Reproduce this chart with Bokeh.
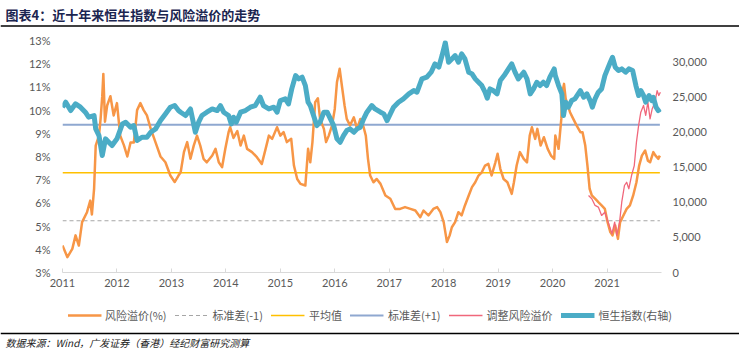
from bokeh.plotting import figure
from bokeh.models import (Range1d, LinearAxis, FixedTicker, PrintfTickFormatter,
                          NumeralTickFormatter, Legend, LegendItem, Plot)
from bokeh.layouts import column
from bokeh.embed import file_html
from bokeh.resources import INLINE
from bokeh.core.properties import value

TITLE = "图表4：近十年来恒生指数与风险溢价的走势"
SOURCE = "数据来源：Wind，广发证券（香港）经纪财富研究测算"
YEAR_TICKS = list(range(2011, 2022))
PCT_TICKS = list(range(3, 14))
HSI_TICKS = list(range(0, 30001, 5000))
MEAN = 7.30
STD = 2.07

# 风险溢价(%)
rp_x = [2011.00, 2011.09, 2011.18, 2011.24, 2011.30, 2011.36, 2011.45, 2011.51, 2011.54, 2011.58,
        2011.61, 2011.67, 2011.70, 2011.73, 2011.75, 2011.78, 2011.82, 2011.88, 2011.94, 2012.00,
        2012.06, 2012.13, 2012.19, 2012.25, 2012.31, 2012.37, 2012.43, 2012.49, 2012.55, 2012.62,
        2012.71, 2012.80, 2012.89, 2012.98, 2013.06, 2013.13,
        2013.17, 2013.23, 2013.29, 2013.35, 2013.41, 2013.47, 2013.53, 2013.59, 2013.65, 2013.75,
        2013.81, 2013.87, 2013.93, 2013.99, 2014.05, 2014.08, 2014.14, 2014.21, 2014.27, 2014.33,
        2014.39, 2014.48, 2014.57, 2014.66, 2014.73, 2014.79, 2014.85, 2014.94, 2015.00, 2015.06,
        2015.12, 2015.20, 2015.25, 2015.31, 2015.37, 2015.46,
        2015.51, 2015.55, 2015.59, 2015.64, 2015.69, 2015.73, 2015.80, 2015.84, 2015.89, 2015.95,
        2016.00, 2016.04, 2016.09, 2016.13, 2016.18, 2016.22, 2016.28, 2016.35, 2016.41, 2016.47,
        2016.53, 2016.57, 2016.61, 2016.65, 2016.71, 2016.77, 2016.84, 2016.93, 2017.02, 2017.11,
        2017.20, 2017.29, 2017.39, 2017.48, 2017.57, 2017.63, 2017.72,
        2017.81, 2017.88, 2017.94, 2018.00, 2018.06, 2018.11, 2018.15, 2018.21, 2018.27, 2018.33,
        2018.39, 2018.46, 2018.52, 2018.58, 2018.64, 2018.70, 2018.76, 2018.82, 2018.88, 2018.95,
        2018.99, 2019.04, 2019.10, 2019.17, 2019.25, 2019.29, 2019.34, 2019.40, 2019.47, 2019.53,
        2019.58, 2019.62, 2019.68, 2019.72, 2019.78, 2019.84, 2019.91, 2019.97, 2020.03,
        2020.05, 2020.11, 2020.16, 2020.18, 2020.21, 2020.24, 2020.28, 2020.32, 2020.38, 2020.44,
        2020.51, 2020.55, 2020.60, 2020.64, 2020.68, 2020.72, 2020.78, 2020.84, 2020.90, 2020.96,
        2021.01, 2021.06, 2021.10, 2021.15, 2021.20, 2021.24, 2021.30, 2021.36, 2021.42, 2021.48,
        2021.54, 2021.59, 2021.64, 2021.70, 2021.75, 2021.79, 2021.85, 2021.89, 2021.94, 2021.97]
rp_y = [4.16, 3.66, 4.02, 4.60, 4.16, 5.17, 5.60, 6.10, 5.50, 6.60,
        8.47, 8.90, 9.63, 10.60, 11.56, 9.50, 10.20, 10.60, 9.77, 10.30,
        8.90, 8.47, 8.00, 8.60, 8.60, 10.00, 10.30, 10.00, 9.77, 9.20,
        8.60, 8.00, 7.75, 7.18, 6.90, 7.18,
        7.32, 8.19, 8.62, 7.90, 8.47, 8.90, 8.47, 7.90, 7.75, 8.04,
        8.33, 7.75, 7.54, 8.33, 9.05, 9.26, 8.80, 9.10, 8.47, 8.90,
        8.33, 8.19, 7.97, 7.68, 8.33, 8.90, 8.76, 9.26, 8.90, 9.05,
        8.62, 8.76, 7.61, 7.03, 6.82, 6.75,
        8.33, 7.75, 8.62, 10.34, 10.51, 9.62, 9.19, 8.62, 8.90, 9.34,
        10.05, 11.20, 11.78, 11.06, 10.20, 9.62, 9.34, 9.69, 9.19, 9.62,
        9.26, 8.90, 7.90, 7.18, 6.89, 7.03, 6.82, 6.32, 6.18, 5.74,
        5.74, 5.82, 5.74, 5.67, 5.38, 5.67, 5.46,
        5.74, 5.82, 5.60, 5.17, 4.31, 4.60, 4.95, 5.17, 5.60, 5.46,
        5.89, 6.32, 6.68, 6.89, 7.18, 7.32, 7.61, 7.68, 7.18, 7.75,
        8.12, 7.47, 7.03, 6.89, 6.39, 6.89, 7.61, 8.19, 7.90, 7.75,
        8.90, 9.26, 8.76, 9.19, 8.47, 8.83, 8.33, 8.04, 7.90,
        8.90, 8.33, 9.62, 10.77, 11.13, 10.49, 10.20, 9.91, 9.62, 9.34,
        9.05, 9.05, 8.47, 7.61, 6.61, 6.32, 6.18, 6.03, 5.89, 5.74,
        5.17, 4.74, 4.60, 5.03, 4.45, 5.17, 5.46, 5.74, 5.89, 6.32,
        6.89, 7.61, 8.04, 8.26, 7.82, 7.75, 8.19, 8.04, 7.90, 8.04]

# 调整风险溢价
adj_x = [2020.66, 2020.72, 2020.78, 2020.84, 2020.90, 2020.96, 2021.04, 2021.09, 2021.14, 2021.18,
         2021.23, 2021.27, 2021.32, 2021.36, 2021.40, 2021.45, 2021.50, 2021.54, 2021.58, 2021.62,
         2021.67, 2021.71, 2021.75, 2021.79, 2021.83, 2021.88, 2021.92, 2021.95, 2021.98]
adj_y = [6.32, 6.18, 5.89, 5.82, 5.46, 5.60, 5.03, 4.67, 5.17, 4.60,
         5.17, 6.03, 6.75, 6.89, 6.61, 7.18, 7.61, 8.62, 9.34, 9.91,
         10.20, 9.77, 10.34, 9.62, 10.06, 10.34, 10.84, 10.63, 10.77]

# 恒生指数(右轴)
hsi_x = [2011.00, 2011.06, 2011.15, 2011.24, 2011.33, 2011.42, 2011.48, 2011.58, 2011.61, 2011.67,
         2011.73, 2011.79, 2011.85, 2011.91, 2012.00, 2012.10, 2012.16, 2012.25, 2012.31, 2012.37,
         2012.46, 2012.55, 2012.62, 2012.71, 2012.80, 2012.89, 2012.98, 2013.06, 2013.13,
         2013.17, 2013.26, 2013.35, 2013.44, 2013.50, 2013.56, 2013.65, 2013.75, 2013.84, 2013.90,
         2013.96, 2014.05, 2014.10, 2014.14, 2014.19, 2014.27, 2014.36, 2014.45, 2014.54, 2014.63,
         2014.69, 2014.79, 2014.88, 2014.94, 2015.00, 2015.09, 2015.15, 2015.21, 2015.28, 2015.34,
         2015.40, 2015.46,
         2015.51, 2015.55, 2015.61, 2015.67, 2015.73, 2015.80, 2015.86, 2015.92, 2015.98, 2016.04,
         2016.10, 2016.16, 2016.22, 2016.28, 2016.35, 2016.41, 2016.47, 2016.53, 2016.59, 2016.68,
         2016.74, 2016.84, 2016.90, 2016.96, 2017.02, 2017.08, 2017.17, 2017.26, 2017.36, 2017.45,
         2017.51, 2017.60, 2017.69, 2017.77,
         2017.84, 2017.91, 2017.97, 2018.03, 2018.09, 2018.15, 2018.21, 2018.27, 2018.33, 2018.39,
         2018.46, 2018.52, 2018.58, 2018.64, 2018.70, 2018.76, 2018.80, 2018.85, 2018.91, 2018.98,
         2019.04, 2019.11, 2019.19, 2019.25, 2019.31, 2019.37, 2019.47, 2019.53, 2019.59, 2019.65,
         2019.71, 2019.77, 2019.83, 2019.89, 2019.95, 2020.03,
         2020.05, 2020.11, 2020.17, 2020.20, 2020.24, 2020.29, 2020.35, 2020.41, 2020.51, 2020.57,
         2020.63, 2020.69, 2020.73, 2020.78, 2020.84, 2020.90, 2020.96, 2021.01, 2021.06, 2021.10,
         2021.15, 2021.21, 2021.27, 2021.34, 2021.40, 2021.47, 2021.53, 2021.58, 2021.62, 2021.67,
         2021.71, 2021.77, 2021.82, 2021.85, 2021.90, 2021.94, 2021.98]
hsi_y = [23510, 24220, 23040, 23990, 23520, 22800, 22090, 22330, 20430, 19480,
         16640, 19010, 18530, 18060, 19010, 21140, 21380, 20670, 20900, 18770,
         19240, 19240, 19950, 20430, 21610, 22560, 23510, 23750, 23040,
         22800, 22330, 23270, 19950, 21380, 22330, 22800, 23270, 23040, 23750,
         22800, 22330, 21140, 22090, 21380, 22800, 23040, 23510, 23750, 24930,
         23750, 23270, 23510, 22800, 24460, 24700, 23990, 26120, 28010, 27540,
         27780, 26590,
         24220, 23750, 22330, 20900, 21380, 22800, 22800, 21850, 20900, 19010,
         18530, 19480, 20190, 20430, 19950, 20430, 20670, 21850, 22800, 23750,
         23270, 22800, 22560, 21610, 22560, 23510, 24220, 24700, 25410, 25880,
         25650, 27540, 27780, 28490,
         29670, 29200, 30860, 32700, 29910, 30380, 30860, 29910, 31100, 30380,
         28490, 28250, 27540, 27060, 26590, 25650, 24790, 26120, 25880, 25410,
         27300, 28010, 28960, 29670, 28490, 27540, 28490, 27540, 25410, 26120,
         27060, 26590, 27060, 26590, 27780, 28960,
         28010, 26590, 25410, 22330, 24220, 23510, 24460, 24700, 25880, 24930,
         25410, 24460, 23510, 24700, 25650, 26120, 28010, 28960, 29910, 30620,
         29200, 28730, 28960, 28490, 28960, 28730, 26590, 25170, 25880, 25170,
         24220, 25170, 24460, 24930, 23510, 23040, 23270]

SERIES_NAMES = ["风险溢价(%)", "标准差(-1)", "平均值", "标准差(+1)", "调整风险溢价", "恒生指数(右轴)"]

CJK = "Noto Sans CJK SC"
HAS_FRAME_ALIGN = "frame_align" in Plot.properties()

STYLE_RP = dict(line_color="#F79646", line_width=2.5)
STYLE_LO = dict(line_color="#A6A6A6", line_width=1.2, line_dash="4 3")
STYLE_MEAN = dict(line_color="#FFC000", line_width=1.3)
STYLE_HI = dict(line_color="#8FA8D0", line_width=2)
STYLE_ADJ = dict(line_color="#F0677B", line_width=1.3)
STYLE_HSI = dict(line_color="#4BACC6", line_width=5)


def strip(fig):
    fig.grid.visible = False
    fig.outline_line_color = None
    if HAS_FRAME_ALIGN:
        fig.frame_align = False
    return fig


# ---------- header ----------
hdr = strip(figure(width=739, height=30, x_range=Range1d(0, 739), y_range=Range1d(30, 0),
                   output_backend="svg", toolbar_location=None, min_border=0,
                   x_axis_location=None, y_axis_location=None))
hdr.text(x=[5], y=[14], text=[TITLE], text_font=value(CJK), text_font_style="bold",
         text_font_size="13px", text_color="#1b2550", text_baseline="middle")
hdr.line([0, 739], [25.5, 25.5], line_color="black", line_width=1.5)

# ---------- main chart ----------
p = figure(width=739, height=268, frame_width=599, frame_height=232,
           x_range=Range1d(2011, 2022), y_range=Range1d(3, 13),
           output_backend="svg", toolbar_location=None,
           min_border_left=62, min_border_right=78, min_border_top=10, min_border_bottom=26)
strip(p)
p.extra_y_ranges = {"hsi": Range1d(0, 33000)}

xa = p.xaxis[0]
xa.ticker = FixedTicker(ticks=YEAR_TICKS)
xa.formatter = PrintfTickFormatter(format="%d")
xa.axis_line_color = "#D9D9D9"
xa.major_tick_line_color = "#D9D9D9"
xa.major_tick_in = 4
xa.major_tick_out = 0
xa.minor_tick_line_color = None
xa.major_label_standoff = 6

ya = p.yaxis[0]
ya.ticker = FixedTicker(ticks=PCT_TICKS)
ya.formatter = PrintfTickFormatter(format="%d%%")
ya.axis_line_color = None
ya.major_tick_line_color = None
ya.minor_tick_line_color = None
ya.major_tick_out = 0
ya.major_label_standoff = 12

ra = LinearAxis(y_range_name="hsi", ticker=FixedTicker(ticks=HSI_TICKS),
                formatter=NumeralTickFormatter(format="0,0"))
ra.axis_line_color = None
ra.major_tick_line_color = None
ra.minor_tick_line_color = None
ra.major_tick_out = 0
ra.major_label_standoff = 11
p.add_layout(ra, "right")

for ax in (xa, ya, ra):
    ax.major_label_text_font = "Lato"
    ax.major_label_text_font_size = "11px"
    ax.major_label_text_color = "#595959"

span_x = [rp_x[0], rp_x[-1]]
p.line(span_x, [MEAN - STD, MEAN - STD], **STYLE_LO)
p.line(span_x, [MEAN, MEAN], **STYLE_MEAN)
p.line(span_x, [MEAN + STD, MEAN + STD], **STYLE_HI)
p.line(rp_x, rp_y, line_join="round", **STYLE_RP)
p.line(adj_x, adj_y, line_join="round", **STYLE_ADJ)
p.line(hsi_x, hsi_y, y_range_name="hsi", line_join="round", **STYLE_HSI)

# ---------- footer: legend, rule, source ----------
ftr = strip(figure(width=739, height=52, x_range=Range1d(0, 739), y_range=Range1d(52, 0),
                   output_backend="svg", toolbar_location=None, min_border=0,
                   x_axis_location=None, y_axis_location=None))
styles = [STYLE_RP, STYLE_LO, STYLE_MEAN, STYLE_HI, STYLE_ADJ, STYLE_HSI]
items = []
for name, st in zip(SERIES_NAMES, styles):
    # legend proxy lines, placed outside the visible footer range
    r = ftr.line(x=[-50, -40], y=[-50, -50], **st)
    items.append(LegendItem(label=name, renderers=[r]))
legend = Legend(items=items, orientation="horizontal", location="top_center")
legend.label_text_font = CJK
legend.label_text_font_size = "11px"
legend.label_text_color = "#595959"
legend.glyph_width = 34
legend.label_standoff = 4
legend.spacing = 8
legend.padding = 2
legend.margin = 5
legend.border_line_alpha = 0
legend.background_fill_alpha = 0
ftr.add_layout(legend)

ftr.line([0, 739], [35, 35], line_color="black", line_width=1.5)
ftr.text(x=[5], y=[44], text=[SOURCE], text_font=value(CJK), text_font_style="italic",
         text_font_size="10px", text_color="#222222", text_baseline="middle")

layout = column(hdr, p, ftr, spacing=0)
open("out.html", "w").write(file_html(layout, INLINE))
